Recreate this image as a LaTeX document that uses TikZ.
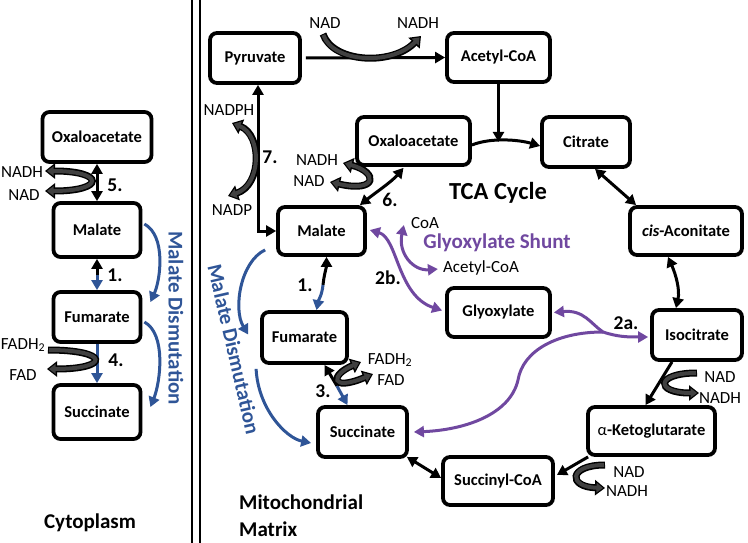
\documentclass[tikz,border=0pt]{standalone}
\usepackage{fontspec}
\setmainfont{Carlito}
\usetikzlibrary{arrows.meta,calc}
\definecolor{pur}{RGB}{112,72,160}
\definecolor{blu}{RGB}{47,85,151}
\definecolor{cofg}{RGB}{64,64,64}
\begin{document}
\begin{tikzpicture}[x=1pt,y=-1pt,
  >={Triangle[length=10pt,width=11pt]},
  box/.style={draw, line width=3.8pt, rounded corners=7pt, inner sep=0pt,
    font=\bfseries\fontsize{16.5}{18}\selectfont},
  lab/.style={inner sep=1pt, font=\fontsize{17}{19}\selectfont},
  num/.style={inner sep=1pt, font=\bfseries\fontsize{19.5}{21}\selectfont},
  big/.style={inner sep=1pt, font=\bfseries\fontsize{21}{24}\selectfont},
  ln/.style={line width=3pt, draw=black},
  bl/.style={line width=3pt, draw=blu},
  pu/.style={line width=3pt, draw=pur},
  cofA/.style={line width=7pt, draw=black, -{Triangle[length=10pt,width=15pt]},
    postaction={draw=cofg, line width=4pt, -{Triangle[length=6.5pt,width=9.5pt]}, shorten >=2pt, shorten <=1pt}},
  cofB/.style={line width=7pt, draw=black, {Triangle[length=10pt,width=15pt]}-{Triangle[length=10pt,width=15pt]},
    postaction={draw=cofg, line width=4pt, {Triangle[length=6.5pt,width=9.5pt]}-{Triangle[length=6.5pt,width=9.5pt]}, shorten >=2pt, shorten <=2pt}},
]
\useasboundingbox (0,0) rectangle (748,543);

% separator
\draw[line width=1.8pt] (192,0) -- (192,543);
\draw[line width=1.8pt] (200,0) -- (200,543);

% ---------- cytoplasm ----------
\node[box, minimum width=109pt, minimum height=50pt] (cOxa) at (97,137) {Oxaloacetate};
\node[box, minimum width=87pt, minimum height=54pt] (cMal) at (97,230) {Malate};
\node[box, minimum width=87pt, minimum height=50pt] (cFum) at (97,317) {Fumarate};
\node[box, minimum width=87pt, minimum height=54pt] (cSuc) at (97,412) {Succinate};

\draw[ln,<->] (cOxa.south) -- (cMal.north);
\coordinate (c1) at (97,275);
\draw[ln,<-] (cMal.south) -- (c1);
\draw[bl,->] (c1) -- (cFum.north);
\draw[bl,->] (cFum.south) -- (cSuc.north);

\node[num] at (115,185) {5.};
\node[num] at (115,275) {1.};
\node[num] at (116,360) {4.};

\node[lab] (cNadh) at (22,172) {NADH};
\node[lab] (cNad) at (24,195) {NAD};
\node[lab] (cFadh) at (23,345) {FADH\textsubscript{2}};
\node[lab] (cFad) at (23,375) {FAD};
\draw[cofB] (45,171) .. controls (105,171) and (105,191) .. (45,191);
\draw[cofA] (48,350) .. controls (110,350) and (110,369) .. (47,369);

\draw[bl,->] ($(cMal.east)+(2,-6)$) .. controls +(22,12) and +(10,-22) .. ($(cFum.north east)+(8,12)$);
\draw[bl,->] ($(cFum.east)+(2,5)$) .. controls +(22,12) and +(10,-25) .. ($(cSuc.east)+(8,-5)$);
\node[text=blu, inner sep=1pt, rotate=-90, font=\bfseries\fontsize{21}{23}\selectfont] at (176,318) {Malate Dismutation};

\node[big] at (90,523) {Cytoplasm};

% ---------- matrix ----------
\node[box, minimum width=90pt, minimum height=50pt] (Pyr) at (255,58) {Pyruvate};
\node[box, minimum width=103pt, minimum height=49pt] (Acet) at (498.5,57.5) {Acetyl-CoA};
\node[box, minimum width=113pt, minimum height=48pt] (mOxa) at (413.5,141) {Oxaloacetate};
\node[box, minimum width=88pt, minimum height=50pt] (Cit) at (586,142) {Citrate};
\node[box, minimum width=112pt, minimum height=48pt] (cisA) at (686,231) {\textit{cis}-Aconitate};
\node[box, minimum width=90pt, minimum height=50pt] (Iso) at (697,335) {Isocitrate};
\node[box, minimum width=127pt, minimum height=48pt] (aKG) at (651.5,431) {{\mdseries α}-Ketoglutarate};
\node[box, minimum width=110pt, minimum height=48pt] (SucCoA) at (498,481) {Succinyl-CoA};
\node[box, minimum width=89pt, minimum height=50pt] (mSuc) at (362.5,432) {Succinate};
\node[box, minimum width=85pt, minimum height=51pt] (mFum) at (304.5,337.5) {Fumarate};
\node[box, minimum width=87pt, minimum height=48pt] (mMal) at (321.5,231) {Malate};
\node[box, minimum width=103pt, minimum height=49pt] (Gly) at (498.5,312.5) {Glyoxylate};

% black cycle arrows
\draw[ln,->] ([xshift=4pt]Pyr.east) -- (Acet.west);
\draw[ln,->] ($(mOxa.east)+(0,4)$) .. controls +(20,-8) and +(-20,-6) .. ($(Cit.west)+(0,4)$);
\draw[ln,->] (Acet.south) -- ++(0,58);
\draw[ln,<->] ($(Cit.south)+(9,0)$) -- ($(cisA.north west)+(8,0)$);
\draw[ln,<->] ($(cisA.south)+(-18,0)$) .. controls +(8,18) and +(4,-18) .. ($(Iso.north)+(-21,0)$);
\draw[ln,->] ($(Iso.south)+(-25,0)$) -- ($(aKG.north)+(-6,0)$);
\draw[ln,->] ($(aKG.south west)+(2,0)$) -- ($(SucCoA.east)+(2,-6)$);
\draw[ln,<->] ($(mSuc.south east)+(-2,-2)$) -- ($(SucCoA.west)+(0,-3)$);
\coordinate (m3) at (337,386);
\draw[ln,<-] ($(mFum.south)+(20,0)$) -- (m3);
\draw[bl,->] (m3) -- ($(mSuc.north)+(-15,0)$);
\coordinate (m1) at (323,285);
\draw[ln,<-] ($(mMal.south)+(5,0)$) .. controls +(0,10) and +(1,-10) .. (m1);
\draw[bl,->] (m1) .. controls +(-1,10) and +(2,-10) .. ($(mFum.north)+(12,0)$);
\draw[ln,<->] ($(mOxa.south)+(-10,1)$) .. controls +(-12,14) and +(15,-12) .. ($(mMal.north east)+(-7,0)$);
\draw[ln,<->] ($(Pyr.south)+(3,0)$) |- (mMal.west);

% numbers
\node[num] at (270,157) {7.};
\node[num] at (390,200) {6.};
\node[num] at (305,285) {1.};
\node[num] at (323,391) {3.};
\node[num] at (388,278) {2b.};
\node[num] at (626,323) {2a.};

% cofactor labels
\node[lab] (nadA) at (325,23) {NAD};
\node[lab] (nadhA) at (418,23) {NADH};
\node[lab] (nadph) at (229,110) {NADPH};
\node[lab] (nadp) at (232,210) {NADP};
\node[lab] (nadh6) at (317,160) {NADH};
\node[lab] (nad6) at (309,181) {NAD};
\node[lab] (mFadh) at (390,360) {FADH\textsubscript{2}};
\node[lab] (mFad) at (391,380) {FAD};
\node[lab] (nadI) at (720,377) {NAD};
\node[lab] (nadhI) at (720,398) {NADH};
\node[lab] (nadK) at (629,472) {NAD};
\node[lab] (nadhK) at (627,491) {NADH};

% cofactor arrows
\draw[cofA] (323,34) .. controls (333,63) and (392,66) .. (421,36);
\draw[cofB] (232,123) .. controls (262,135) and (262,185) .. (228,196);
\draw[cofB] (343,163) .. controls (378,172) and (378,193) .. (330,182);
\draw[cofB] (361,362) .. controls (330,375) and (330,392) .. (373,374);
\draw[cofA] (697,373) .. controls (655,373) and (655,393) .. (699,393);
\draw[cofA] (605,465) .. controls (568,465) and (568,487) .. (605,488);

% blue malate dismutation (matrix)
\draw[bl,->] ($(mMal.south west)+(-11,-7)$) .. controls +(-25,12) and +(-15,-25) .. ($(mFum.west)+(-12,-3)$);
\draw[bl,->] ($(mFum.south west)+(-4,4)$) .. controls +(2,40) and +(-25,-5) .. ($(mSuc.west)+(-5,11)$);
\node[text=blu, inner sep=1pt, rotate=-77, font=\bfseries\fontsize{21}{23}\selectfont] at (234,349) {Malate Dismutation};

% glyoxylate shunt
\node[lab] (coa) at (425,223) {CoA};
\node[lab] (acoa) at (481,268) {Acetyl-CoA};
\node[text=pur, inner sep=1pt, font=\bfseries\fontsize{21}{23}\selectfont] at (497,243) {Glyoxylate Shunt};
\draw[pu,<->] ($(mMal.east)+(3,-1)$) .. controls +(28,8) and +(-45,-15) .. ($(Gly.west)+(-3,-2)$);
\draw[pu,<->] ($(coa.west)+(-6,2)$) .. controls +(-6,28) and +(-25,2) .. ($(acoa.west)+(-4,1)$);
\coordinate (j) at (603,332);
\coordinate (k) at (518,380);
\draw[pu,<->] ($(Gly.east)+(2,0)$) .. controls +(30,-3) and +(-12,-8) .. (j) .. controls +(15,5) and +(-20,0) .. ($(Iso.west)+(-2,2)$);
\draw[pu,->] (j) .. controls +(-45,0) and +(5,-30) .. (k) .. controls +(-8,35) and +(50,-2) .. ($(mSuc.east)+(5,0)$);

% titles
\node[inner sep=1pt, font=\bfseries\fontsize{24.5}{27}\selectfont] at (498,193) {TCA Cycle};
\node[big, anchor=west] at (238,502) {Mitochondrial};
\node[big, anchor=west] at (238,529) {Matrix};
\end{tikzpicture}
\end{document}
